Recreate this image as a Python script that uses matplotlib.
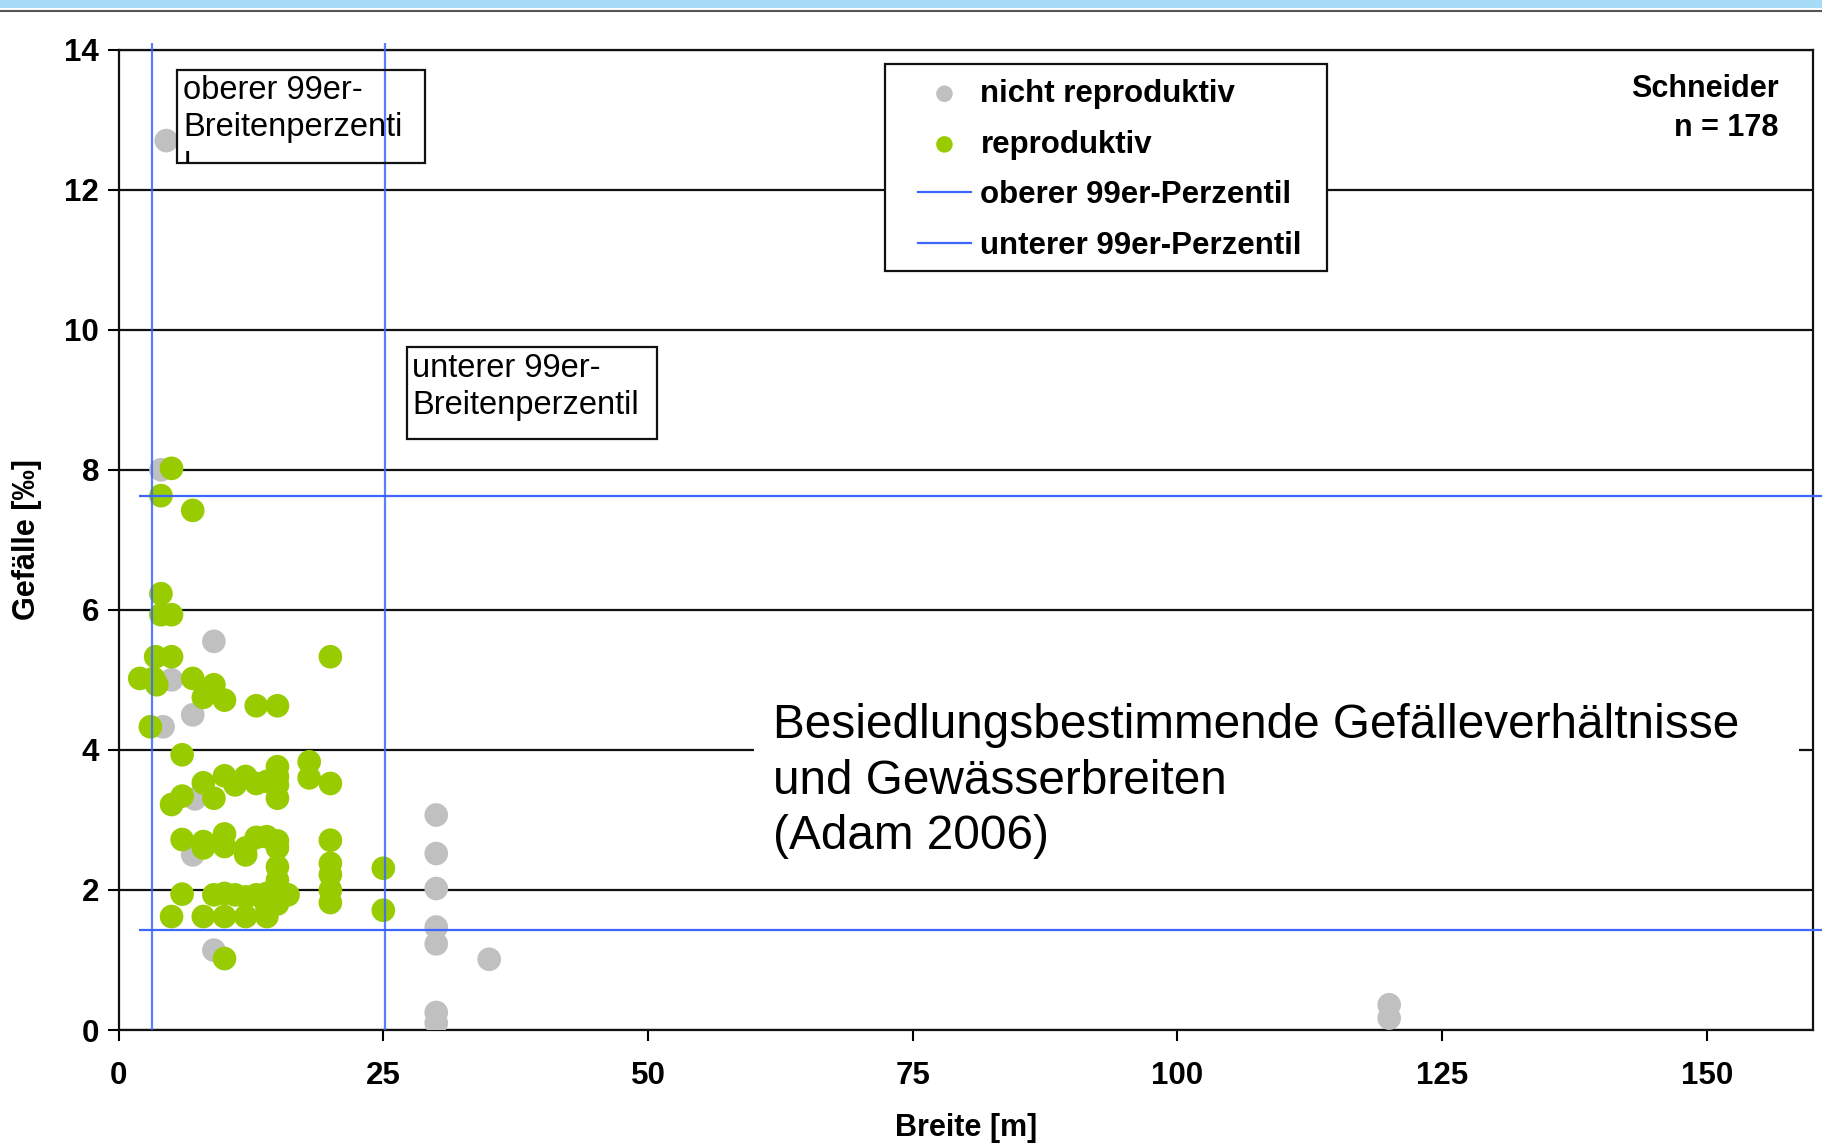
import matplotlib
matplotlib.use('Agg')
import matplotlib.pyplot as plt
from matplotlib.patches import Rectangle
from matplotlib.lines import Line2D
from matplotlib.transforms import Bbox, TransformedBbox

plt.rcParams['font.family'] = ['Liberation Sans', 'DejaVu Sans']

# nicht reproduktiv (grau)
breite_nicht = [4.5, 4, 9, 5, 7, 4.2, 7.2, 7, 9,
                30, 30, 30, 30, 30, 30, 30, 35, 120, 120]
gefaelle_nicht = [12.7, 8.0, 5.55, 5.0, 4.5, 4.33, 3.3, 2.5, 1.14,
                  3.07, 2.52, 2.02, 1.47, 1.23, 0.25, 0.1, 1.01, 0.36, 0.17]

# reproduktiv (gruen)
breite_repro = [5, 4, 7, 4, 4, 5, 3.5, 5, 20,
                2, 3.3, 3.6, 7, 9, 8, 10, 13, 15,
                3, 6, 18, 18, 20, 15, 15, 15, 15,
                8, 10, 11, 12, 13, 14, 9, 5, 6,
                6, 8, 8, 10, 10, 12, 12, 13, 14,
                15, 15, 15, 15, 20, 20, 20, 20, 20,
                25, 25, 6, 9, 10, 11, 12, 13, 14,
                15, 16, 15, 14, 5, 8, 10, 12, 14, 10]
gefaelle_repro = [8.02, 7.63, 7.42, 6.23, 5.93, 5.93, 5.33, 5.33, 5.33,
                  5.02, 5.02, 4.93, 5.02, 4.93, 4.75, 4.71, 4.63, 4.63,
                  4.33, 3.93, 3.83, 3.6, 3.52, 3.76, 3.62, 3.31, 3.5,
                  3.53, 3.63, 3.5, 3.62, 3.52, 3.55, 3.31, 3.22, 3.34,
                  2.72, 2.69, 2.6, 2.8, 2.62, 2.6, 2.5, 2.75, 2.76,
                  2.7, 2.6, 2.33, 2.14, 2.71, 2.38, 2.22, 2.0, 1.82,
                  2.31, 1.71, 1.94, 1.93, 1.95, 1.93, 1.9, 1.93, 1.95,
                  1.97, 1.93, 1.8, 1.76, 1.62, 1.62, 1.62, 1.62, 1.62, 1.02]

# 99er-Perzentile: [oberer, unterer]
perzentil_breite = [3.2, 25.2]
perzentil_gefaelle = [7.62, 1.43]

x_ticks = [0, 25, 50, 75, 100, 125, 150]
y_ticks = [0, 2, 4, 6, 8, 10, 12, 14]

GREY = '#c0c0c0'
GREEN = '#99cc00'
BLUE = '#3d66ff'

fig = plt.figure(figsize=(18.22, 11.47), dpi=100)
ax = fig.add_axes([0.0651, 0.102, 0.9298, 0.8548])

# top banner of the slide
fig.patches.append(Rectangle((0, 1 - 8 / 1147), 1, 8 / 1147, transform=fig.transFigure,
                             facecolor='#a6dcf6', edgecolor='none'))
fig.lines.append(Line2D([0, 1], [1 - 11 / 1147, 1 - 11 / 1147], transform=fig.transFigure,
                        color='#555555', lw=1.5))

ax.set_xlim(0, 160)
ax.set_ylim(0, 14)
ax.set_xticks(x_ticks)
ax.set_yticks(y_ticks)
ax.yaxis.grid(True, color='#111111', lw=1.6, zorder=1)
ax.set_axisbelow(True)
for s in ax.spines.values():
    s.set_linewidth(1.6)
    s.set_color('#111111')

ax.tick_params(axis='both', direction='out', length=8, width=1.5, labelsize=22.5)
ax.tick_params(axis='x', pad=14)
ax.tick_params(axis='y', pad=6)
for lab in ax.get_xticklabels() + ax.get_yticklabels():
    lab.set_fontweight('bold')

ax.set_xlabel('Breite [m]', fontsize=22, fontweight='bold')
ax.set_ylabel('Gefälle [‰]', fontsize=22, fontweight='bold')
ax.xaxis.set_label_coords(0.5, -0.085)
ax.yaxis.set_label_coords(-0.045, 0.5)

# points
ax.scatter(breite_nicht, gefaelle_nicht, s=290, color=GREY, edgecolors='none',
           zorder=3, label='nicht reproduktiv')
ax.scatter(breite_repro, gefaelle_repro, s=290, color=GREEN, edgecolors='none',
           zorder=4, label='reproduktiv')

# percentile lines
labels = ['oberer 99er-Perzentil', 'unterer 99er-Perzentil']
for bx, gy, lab in zip(perzentil_breite, perzentil_gefaelle, labels):
    ax.vlines(bx, 0, 14.1, color=BLUE, lw=1.6, alpha=0.85, clip_on=False, zorder=5)
    ax.hlines(gy, 1.95, 164, color=BLUE, lw=1.6, clip_on=False, zorder=5)
    ax.plot([], [], color=BLUE, lw=1.6, label=lab)

# legend with a drawn frame
ax.add_patch(Rectangle((0.4526, 0.7744), 0.2607, 0.2109, transform=ax.transAxes,
                       facecolor='white', edgecolor='#111111', lw=1.6, zorder=6))
leg = ax.legend(loc='upper left', bbox_to_anchor=(0.4718, 0.970), frameon=False,
                fontsize=22.5, handlelength=1.7, handletextpad=0.3, labelspacing=0.66,
                borderpad=0, borderaxespad=0, markerscale=0.7)
leg.set_zorder(7)
for t in leg.get_texts():
    t.set_fontweight('bold')

ax.text(0.980, 0.940, 'Schneider\nn = 178', transform=ax.transAxes, ha='right',
        va='center', multialignment='right', fontsize=22, fontweight='bold',
        linespacing=1.4, zorder=7)

# annotation boxes
box1 = Rectangle((0.0342, 0.8846), 0.1468, 0.0948, transform=ax.transAxes,
                 facecolor='none', edgecolor='#111111', lw=1.6, zorder=6)
ax.add_patch(box1)
ax.text(0.0383, 0.9397, 'oberer 99er-\nBreitenperzenti', transform=ax.transAxes,
        ha='left', va='center', fontsize=23.5, linespacing=1.25, zorder=7)
# wrapped last letter, cut off by the box
t_l = ax.text(0.0383, 0.8846 + 0.012, 'l', transform=ax.transAxes,
              ha='left', va='top', fontsize=23.5, zorder=7)
t_l.set_clip_box(TransformedBbox(Bbox([[0.0342, 0.8846], [0.181, 0.98]]), ax.transAxes))
t_l.set_clip_on(True)

box2 = Rectangle((0.170, 0.6026), 0.1476, 0.0936, transform=ax.transAxes,
                 facecolor='none', edgecolor='#111111', lw=1.6, zorder=6)
ax.add_patch(box2)
ax.text(0.1734, 0.6555, 'unterer 99er-\nBreitenperzentil', transform=ax.transAxes,
        ha='left', va='center', fontsize=23.5, linespacing=1.25, zorder=7)

# title block
ax.add_patch(Rectangle((0.3749, 0.17), 0.617, 0.23, transform=ax.transAxes,
                       facecolor='white', edgecolor='none', zorder=2))
ax.text(0.386, 0.2535, 'Besiedlungsbestimmende Gefälleverhältnisse\nund Gewässerbreiten\n(Adam 2006)',
        transform=ax.transAxes, ha='left', va='center', fontsize=34.4, linespacing=1.3, zorder=7)

fig.savefig('out.png', dpi=100)
